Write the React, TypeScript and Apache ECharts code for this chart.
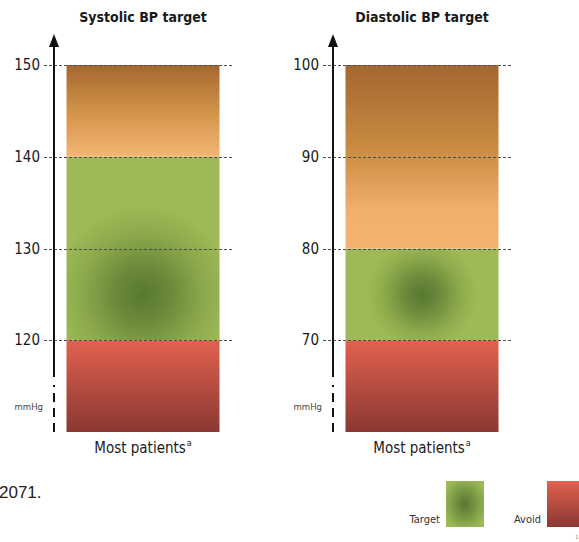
import React, { useEffect, useRef } from "react";
import * as echarts from "echarts";

// ---- data ----
const categories = ["Most patients"];
const panelTitles = ["Systolic BP target", "Diastolic BP target"];
// band boundaries: [axis min, avoid top, target top, caution top]
const systolicBands = [110, 120, 140, 150];
const diastolicBands = [60, 70, 80, 100];
const systolicTicks = [120, 130, 140, 150];
const diastolicTicks = [70, 80, 90, 100];
const systolicAxisBreak = 116;
const diastolicAxisBreak = 66;
const systolicTargetCenter = 125;
const diastolicTargetCenter = 75;
const legendLabels = ["Target", "Avoid"];
const unitLabel = "mmHg";
const footText = "2071.";

const FONT = "'Liberation Sans Narrow', 'DejaVu Sans Condensed', Roboto, sans-serif";
const GRID_TOP = 65;
const GRID_H = 367;
const GRID_W = 178;
const GRID_LEFTS = [54, 333];
const GLOW_RADIUS = [90, 55];

const darkGreen = "#587832";
const baseGreen = "#9dba56";

function greenGradient(cx: number, cy: number, r: number) {
  return new echarts.graphic.RadialGradient(
    cx,
    cy,
    r,
    [
      { offset: 0, color: darkGreen },
      { offset: 0.3, color: "#6a893a" },
      { offset: 0.7, color: "#8dab4c" },
      { offset: 1, color: baseGreen },
    ],
    true
  );
}
const redGradient = () =>
  new echarts.graphic.LinearGradient(0, 0, 0, 1, [
    { offset: 0, color: "#e2614f" },
    { offset: 1, color: "#8a3832" },
  ]);

function orangeGradient(diastolic: boolean) {
  return new echarts.graphic.LinearGradient(
    0,
    0,
    0,
    1,
    diastolic
      ? [
          { offset: 0, color: "#a4672f" },
          { offset: 0.45, color: "#c98a42" },
          { offset: 0.8, color: "#f2b06d" },
          { offset: 1, color: "#f4b471" },
        ]
      : [
          { offset: 0, color: "#a4672f" },
          { offset: 0.5, color: "#d29249" },
          { offset: 1, color: "#f5b574" },
        ]
  );
}

export default function App() {
  const ref = useRef<HTMLDivElement>(null);
  useEffect(() => {
    if (!ref.current) return;
    const chart = echarts.init(ref.current, null, { renderer: "svg" });

    const panels = [
      { bands: systolicBands, ticks: systolicTicks, brk: systolicAxisBreak, tc: systolicTargetCenter, diastolic: false },
      { bands: diastolicBands, ticks: diastolicTicks, brk: diastolicAxisBreak, tc: diastolicTargetCenter, diastolic: true },
    ];

    const grid: any[] = [];
    const xAxis: any[] = [];
    const yAxis: any[] = [];
    const series: any[] = [];
    const targetSeriesIdx: number[] = [];

    panels.forEach((p, i) => {
      const yMin = p.bands[0];
      const yMax = p.bands[3];
      grid.push({ left: GRID_LEFTS[i], top: GRID_TOP, width: GRID_W, height: GRID_H });
      xAxis.push({
        type: "category",
        gridIndex: i,
        data: categories,
        axisLine: { show: false },
        axisTick: { show: false },
        axisLabel: {
          margin: 6,
          formatter: (v: string) => `{m|${v}}{s|a}`,
          rich: {
            m: { fontSize: 15, color: "#1a1a1a", fontFamily: FONT, lineHeight: 20 },
            s: { fontSize: 9, color: "#1a1a1a", fontFamily: FONT, lineHeight: 20, verticalAlign: "top", padding: [0, 0, 8, 1] },
          },
        },
      });
      yAxis.push({
        type: "value",
        gridIndex: i,
        min: yMin,
        max: yMax,
        interval: 10,
        splitLine: { show: false },
        axisLine: { show: false },
        axisTick: { show: false },
        axisLabel: { margin: 14, fontSize: 15, color: "#1a1a1a", fontFamily: FONT, showMinLabel: false },
      });
      const stack = "s" + i;
      const common = { type: "bar", xAxisIndex: i, yAxisIndex: i, stack, barWidth: 153, silent: true };
      series.push({ ...common, name: "base", data: [p.bands[0]], itemStyle: { color: "transparent" } });
      series.push({ ...common, name: "Avoid", data: [p.bands[1] - p.bands[0]], itemStyle: { color: redGradient() } });
      targetSeriesIdx.push(series.length);
      series.push({ ...common, name: "Target", data: [p.bands[2] - p.bands[1]], itemStyle: { color: baseGreen } });
      series.push({ ...common, name: "Caution", data: [p.bands[3] - p.bands[2]], itemStyle: { color: orangeGradient(p.diastolic) } });
      // dashed gridlines
      series.push({
        type: "custom",
        xAxisIndex: i,
        yAxisIndex: i,
        silent: true,
        z: 5,
        data: p.ticks.map((v) => [0, v]),
        encode: { x: 0, y: 1 },
        renderItem: (params: any, api: any) => {
          const cs = params.coordSys;
          const y = Math.round(api.coord([0, api.value(1)])[1]) + 0.5;
          return {
            type: "line",
            shape: { x1: cs.x - 10, y1: y, x2: cs.x + cs.width, y2: y },
            style: { stroke: "#4d4d4d", lineWidth: 1, lineDash: [3, 2] },
          };
        },
      });
      // axis with arrow and break
      series.push({
        type: "custom",
        xAxisIndex: i,
        yAxisIndex: i,
        silent: true,
        z: 6,
        data: [[0, yMin]],
        encode: { x: 0, y: 1 },
        renderItem: (params: any, api: any) => {
          const cs = params.coordSys;
          const x = cs.x;
          const yTop = api.coord([0, yMax])[1] - 31;
          const yBreak = api.coord([0, p.brk])[1];
          const yBot = api.coord([0, yMin])[1];
          return {
            type: "group",
            children: [
              { type: "polygon", shape: { points: [[x, yTop], [x - 5, yTop + 13], [x + 5, yTop + 13]] }, style: { fill: "#111" } },
              { type: "line", shape: { x1: x, y1: yTop + 10, x2: x, y2: yBreak }, style: { stroke: "#111", lineWidth: 2 } },
              { type: "line", shape: { x1: x, y1: yBot, x2: x, y2: yBreak + 8 }, style: { stroke: "#111", lineWidth: 2, lineDash: [9, 6] } },
              {
                type: "text",
                x: x - 11,
                y: (yBreak + yBot) / 2 + 2,
                style: { text: unitLabel, align: "right", verticalAlign: "middle", fontSize: 9.5, fill: "#444", fontFamily: FONT },
              },
            ],
          };
        },
      });
    });

    const graphic: any[] = [];
    panelTitles.forEach((t, i) => {
      graphic.push({
        type: "text",
        x: GRID_LEFTS[i] + GRID_W / 2,
        y: 17,
        style: { text: t, align: "center", verticalAlign: "middle", fontSize: 14, fontWeight: "bold", fill: "#1a1a1a", fontFamily: FONT },
      });
    });
    graphic.push(
      { type: "text", x: -1, y: 492, style: { text: footText, align: "left", verticalAlign: "middle", fontSize: 17, fill: "#222", fontFamily: "'Liberation Sans', Arial, sans-serif" } },
      { type: "text", x: 440, y: 519, style: { text: legendLabels[0], align: "right", verticalAlign: "middle", fontSize: 11, fill: "#333", fontFamily: FONT } },
      {
        type: "rect",
        shape: { x: 446, y: 481, width: 38, height: 46 },
        style: {
          fill: new echarts.graphic.RadialGradient(0.5, 0.5, 0.6, [
            { offset: 0, color: darkGreen },
            { offset: 0.35, color: "#6f8d3d" },
            { offset: 1, color: baseGreen },
          ]),
        },
      },
      { type: "text", x: 541, y: 519, style: { text: legendLabels[1], align: "right", verticalAlign: "middle", fontSize: 11, fill: "#333", fontFamily: FONT } },
      { type: "rect", shape: { x: 547, y: 481, width: 38, height: 46 }, style: { fill: redGradient() } },
      { type: "text", x: 577, y: 537, style: { text: "1", align: "center", verticalAlign: "middle", fontSize: 5, fill: "#666", fontFamily: FONT } }
    );

    chart.setOption({ animation: false, grid, xAxis, yAxis, series, graphic });

    // second pass: place the target glow at its data position (circular, pixel-based)
    const upd = panels.map((p, i) => {
      const pt = chart.convertToPixel({ gridIndex: i }, [0, p.tc]) as number[];
      return {
        idx: targetSeriesIdx[i],
        color: greenGradient(pt[0], pt[1], GLOW_RADIUS[i]),
      };
    });
    const seriesUpd = series.map((s, k) => {
      const u = upd.find((q) => q.idx === k);
      return u ? { itemStyle: { color: u.color } } : {};
    });
    chart.setOption({ series: seriesUpd });
    return () => chart.dispose();
  }, []);
  return <div ref={ref} style={{ position: "fixed", left: 0, top: 0, width: 579, height: 542, background: "#fff" }} />;
}
